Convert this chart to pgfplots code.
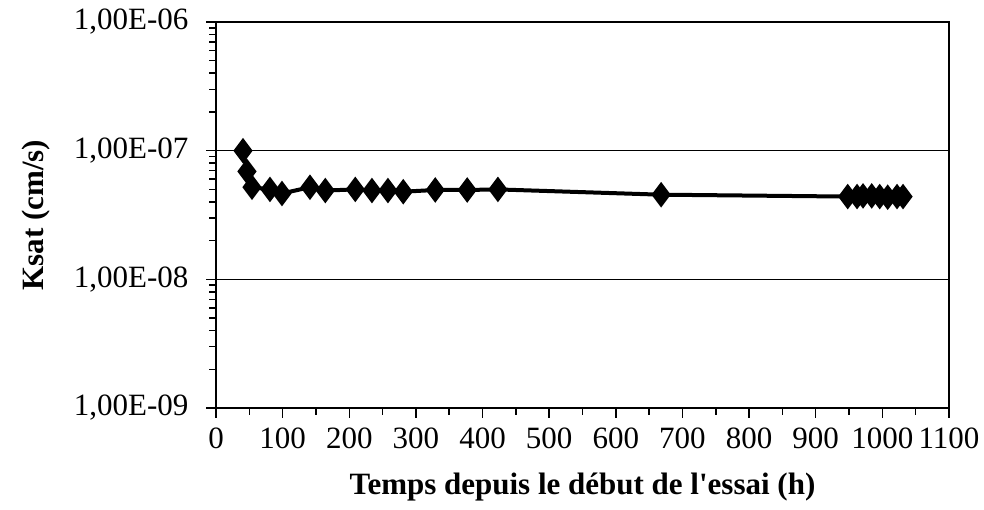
\documentclass[border=0pt]{standalone}
\usepackage{fontspec}
\setmainfont{Liberation Serif}
\usepackage{pgfplots}
\pgfplotsset{compat=1.18}
\begin{document}
\begin{tikzpicture}[x=1pt,y=1pt]
\path[use as bounding box] (0,0) rectangle (984,509);
\begin{axis}[
  at={(216pt,101pt)}, anchor=south west,
  scale only axis, width=733pt, height=386pt,
  xmin=0, xmax=1100, ymode=log, ymin=1e-9, ymax=1e-6,
  xtick={0,100,...,1100},
  xticklabels={0,100,200,300,400,500,600,700,800,900,1000,1100},
  minor xtick={50,150,...,1050},
  ytick={1e-9,1e-8,1e-7,1e-6},
  yticklabels={{1,00E-09},{1,00E-08},{1,00E-07},{1,00E-06}},
  minor ytick={2e-9,3e-9,4e-9,5e-9,6e-9,7e-9,8e-9,9e-9,2e-8,3e-8,4e-8,5e-8,6e-8,7e-8,8e-8,9e-8,2e-7,3e-7,4e-7,5e-7,6e-7,7e-7,8e-7,9e-7},
  tick pos=left, tick align=outside,
  major tick length=10pt, minor tick length=7pt,
  every tick/.style={black, line width=1.5pt},
  ymajorgrids, major grid style={black, line width=1.5pt},
  axis line style={line width=2pt},
  ticklabel style={font=\fontsize{31}{36}\selectfont},
  xticklabel style={yshift=-6pt},
  yticklabel style={xshift=-14pt},
  xlabel={Temps depuis le début de l\textquotesingle essai (h)},
  ylabel={Ksat (cm/s)},
  label style={font=\fontsize{31}{36}\selectfont\bfseries},
  xlabel style={yshift=-18pt},
  ylabel style={yshift=17pt},
]
\addplot[black, line width=4pt, mark=diamond*, mark size=9.5pt, mark options={solid}] coordinates {
(40.5,1.0e-7) (46.5,6.9e-8) (54,5.2e-8) (81,5.0e-8) (99,4.65e-8)
(141,5.2e-8) (164,4.9e-8) (209,5.0e-8) (234,4.9e-8) (258,4.9e-8)
(281,4.8e-8) (329,4.95e-8) (377,4.95e-8) (423,5.0e-8) (668,4.55e-8)
(948,4.4e-8) (962,4.4e-8) (971,4.45e-8) (984,4.45e-8) (996,4.4e-8)
(1008,4.35e-8) (1022,4.4e-8) (1031,4.4e-8)
};
\end{axis}
\end{tikzpicture}
\end{document}
